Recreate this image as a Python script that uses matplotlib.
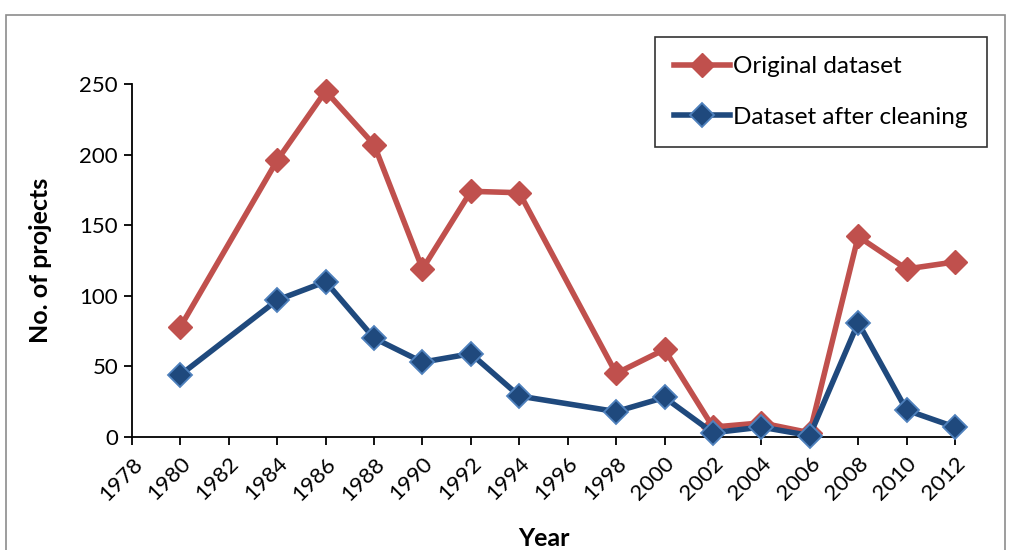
import matplotlib
matplotlib.use("Agg")
import matplotlib.pyplot as plt
from matplotlib.patches import Rectangle

years = [1980, 1984, 1986, 1988, 1990, 1992, 1994, 1998, 2000, 2002, 2004, 2006, 2008, 2010, 2012]
original = [78, 196, 245, 207, 119, 174, 173, 45, 62, 7, 10, 3, 142, 119, 124]
cleaned = [44, 97, 110, 70, 53, 59, 29, 18, 28, 3, 7, 1, 81, 19, 7]
x_ticks = list(range(1978, 2013, 2))
y_ticks = [0, 50, 100, 150, 200, 250]

plt.rcParams['font.family'] = ['Lato', 'DejaVu Sans']

fig = plt.figure(figsize=(10.13, 5.5), dpi=100)
fig.patches.append(Rectangle((6 / 1013, -0.01), 999 / 1013, 1 - 15 / 550 + 0.01,
                             transform=fig.transFigure, fill=False,
                             edgecolor='#8c8c8c', linewidth=1.2))

ax = fig.add_axes([132 / 1013, 1 - 437 / 550, (955 - 132) / 1013, (437 - 84) / 550])

red = '#C0504D'
blue = '#1F497D'
l1, = ax.plot(years, original, color=red, lw=4, marker='D', markersize=12,
              markerfacecolor=red, markeredgecolor=red, markeredgewidth=1, clip_on=False,
              label='Original dataset', zorder=3)
l2, = ax.plot(years, cleaned, color=blue, lw=4, marker='D', markersize=12,
              markerfacecolor=blue, markeredgecolor='#4F81BD', markeredgewidth=1.3, clip_on=False,
              label='Dataset after cleaning', zorder=4)

ax.set_xlim(1978, 2012)
ax.set_ylim(0, 250)
ax.set_xticks(x_ticks)
ax.set_xticklabels([str(t) for t in x_ticks], rotation=45, ha='right', rotation_mode='anchor')
ax.set_yticks(y_ticks)
for s in ['top', 'right']:
    ax.spines[s].set_visible(False)
for s in ['left', 'bottom']:
    ax.spines[s].set_linewidth(1.3)
ax.tick_params(axis='both', direction='out', length=6, width=1.3, labelsize=16, pad=4)
ax.tick_params(axis='x', pad=6)

ax.set_ylabel('No. of projects', fontsize=18, fontweight='bold', labelpad=20)
ax.set_xlabel('Year', fontsize=18, fontweight='bold', labelpad=16)

leg = fig.legend(handles=[l1, l2], loc='upper left',
                 bbox_to_anchor=(655 / 1013, 1 - 37 / 550), bbox_transform=fig.transFigure,
                 fontsize=17.5, frameon=True, fancybox=False, edgecolor='black',
                 handlelength=2.3, handletextpad=0.1, labelspacing=1.2,
                 borderpad=0.8, borderaxespad=0)
leg.get_frame().set_linewidth(1.2)

fig.savefig('out.png', dpi=100)
